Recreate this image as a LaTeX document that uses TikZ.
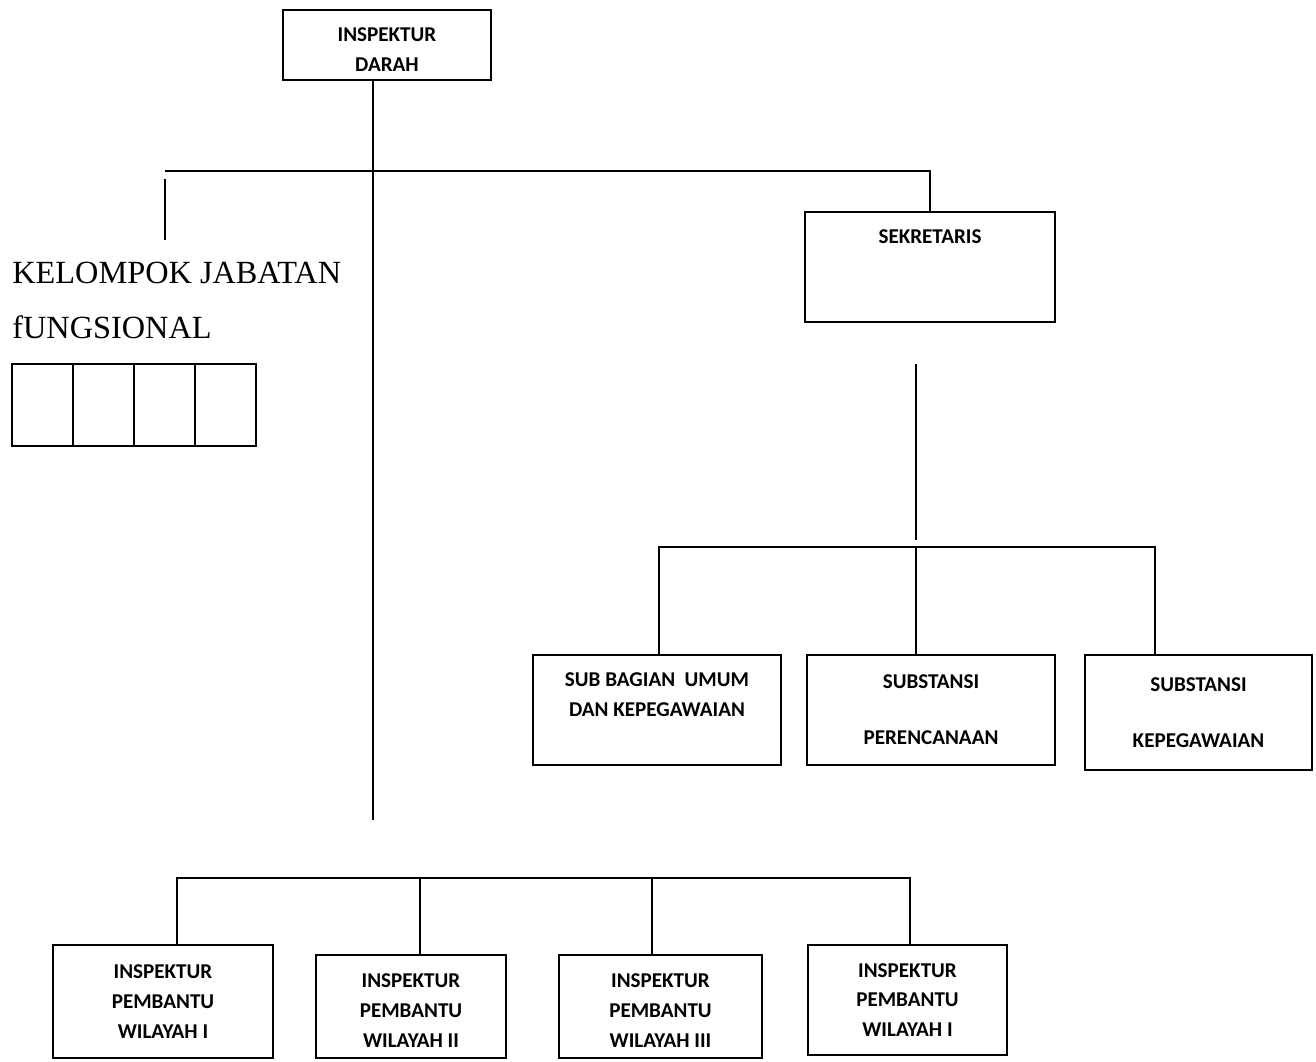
\documentclass[tikz,border=0pt]{standalone}
\usepackage{fontspec}
\setmainfont{Carlito}
\newfontfamily\jabfont{Liberation Serif}
\usetikzlibrary{positioning}
\tikzset{
  orgbox/.style={draw, line width=1.1pt, align=center, inner sep=0pt, font=\bfseries\fontsize{12}{17}\selectfont},
  boxtext/.style={align=center, inner sep=0pt, font=\bfseries\fontsize{12}{17}\selectfont},
  jabtext/.style={anchor=base west, inner sep=0pt, font=\jabfont\fontsize{18.4}{22}\selectfont},
  cellbox/.style={draw, line width=1.1pt, minimum width=1.22cm, minimum height=1.64cm, inner sep=0pt, outer sep=0pt},
  orgline/.style={line width=1.1pt}
}

\begin{document}
\begin{tikzpicture}[x=0.02cm, y=-0.02cm]
        \useasboundingbox (0,0) rectangle (1316,1062);
        \node[orgbox, minimum width=4.16cm, minimum height=1.4cm] (darah) at (387,45) {};
        \node[boxtext] (darahtext) at ([yshift=-0.1cm]darah.center) {INSPEKTUR\\DARAH};
        \node[orgbox, minimum width=5cm, minimum height=2.2cm] (sekr) at (930,267) {};
        \node[boxtext] (sekrtext) at ([yshift=-0.52cm]sekr.north) {SEKRETARIS};
        \node[jabtext] (kj1) at (12,283) {KELOMPOK JABATAN};
        \node[jabtext] (kj2) at (12,338) {fUNGSIONAL};
        \node[cellbox] (cell1) at (42.5,405) {};
        \foreach \i [evaluate=\i as \j using int(\i-1)] in {2,3,4}
          \node[cellbox, right=0pt of cell\j] (cell\i) {};
        \node[orgbox, minimum width=4.96cm, minimum height=2.2cm] (sba) at (657,710) {};
        \node[boxtext] (sbatext) at ([yshift=-0.82cm]sba.north) {SUB BAGIAN~~UMUM\\DAN KEPEGAWAIAN};
        \node[orgbox, minimum width=4.96cm, minimum height=2.2cm] (per) at (931,710) {SUBSTANSI\\[15pt]PERENCANAAN};
        \node[orgbox, minimum width=4.54cm, minimum height=2.3cm] (kep) at (1198.5,712.5) {SUBSTANSI\\[15pt]KEPEGAWAIAN};
        \node[orgbox, minimum width=4.4cm, minimum height=2.26cm] (pw1) at (163,1001.5) {INSPEKTUR\\PEMBANTU\\WILAYAH I};
        \node[orgbox, minimum width=3.8cm, minimum height=2.06cm] (pw2) at (411,1006.5) {};
        \node[boxtext] (pw2text) at ([yshift=-0.08cm]pw2.center) {INSPEKTUR\\PEMBANTU\\WILAYAH II};
        \node[orgbox, minimum width=4.06cm, minimum height=2.06cm] (pw3) at (660.5,1006.5) {};
        \node[boxtext] (pw3text) at ([yshift=-0.08cm]pw3.center) {INSPEKTUR\\PEMBANTU\\WILAYAH III};
        \node[orgbox, minimum width=3.98cm, minimum height=2.2cm] (pw4) at (907.5,1000) {INSPEKTUR\\PEMBANTU\\WILAYAH I};
        \coordinate (trunkend) at (373,820);
        \coordinate (topbarL) at (165,171);
        \coordinate (topbarR) at (930,171);
        \coordinate (kjtop) at (165,179);
        \coordinate (kjbot) at (165,240);
        \coordinate (sektop) at (916,364);
        \coordinate (sekbot) at (916,540);
        \coordinate (sekbar) at (916,547);
        \coordinate (sekbarL) at (659,547);
        \coordinate (sekbarR) at (1155,547);
        \coordinate (botbarL) at (177,878);
        \coordinate (botbarR) at (910,878);
        \coordinate (drop2) at (420,878);
        \coordinate (drop3) at (652,878);
        \draw[orgline] (trunkend |- darah.south) -- (trunkend);
        \draw[orgline] (topbarL) -- (topbarR) -- (sekr.north);
        \draw[orgline] (kjtop) -- (kjbot);
        \draw[orgline] (sektop) -- (sekbot);
        \draw[orgline] (sekbarL |- sba.north) -- (sekbarL) -- (sekbarR) -- (sekbarR |- kep.north);
        \draw[orgline] (sekbar) -- (sekbar |- per.north);
        \draw[orgline] (botbarL |- pw1.north) -- (botbarL) -- (botbarR) -- (botbarR |- pw4.north);
        \draw[orgline] (drop2) -- (drop2 |- pw2.north);
        \draw[orgline] (drop3) -- (drop3 |- pw3.north);
      \end{tikzpicture}
\end{document}
